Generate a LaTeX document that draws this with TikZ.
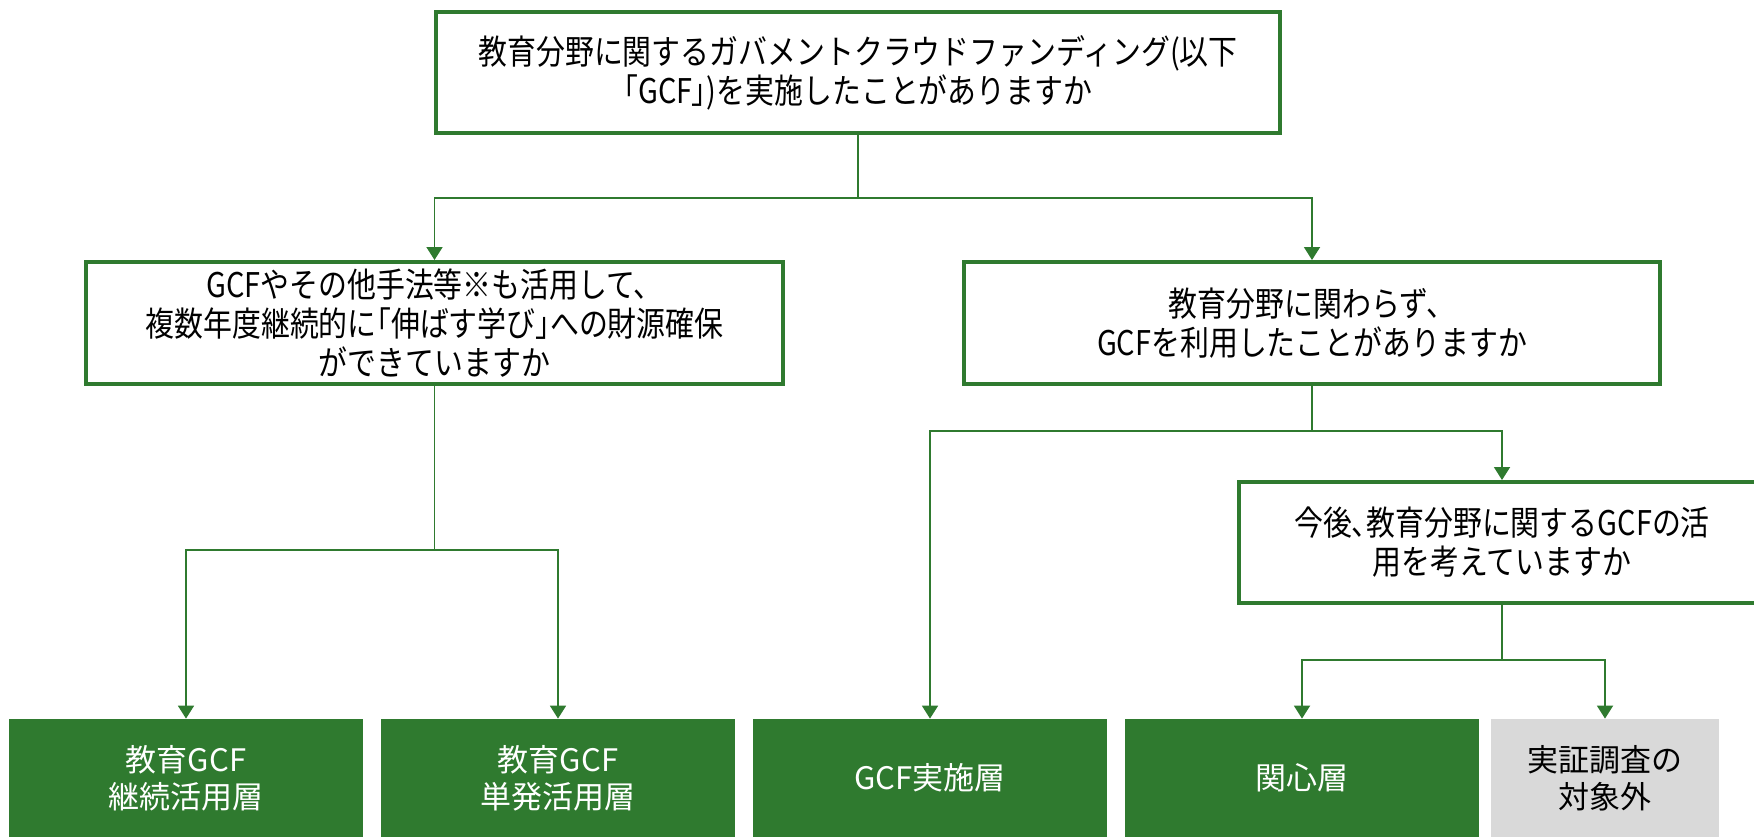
\documentclass[tikz,border=0pt]{standalone}
\usepackage{fontspec}
\setmainfont{Noto Sans CJK JP}
\newfontfamily\qfont[FakeStretch=0.85]{Noto Sans CJK JP}
\newfontfamily\qpfont[FakeStretch=0.85,RawFeature=+palt]{Noto Sans CJK JP}
\newcommand{\pbr}[1]{{\qpfont #1}}
\usetikzlibrary{arrows.meta}
\definecolor{gcfgreen}{RGB}{47,122,47}
\definecolor{outgray}{RGB}{217,217,217}
\tikzset{
  qbox/.style={draw=gcfgreen, line width=2pt, fill=white, align=center,
    font=\qfont\fontsize{17pt}{19.5pt}\selectfont, inner sep=0pt},
  abox/.style={fill=gcfgreen, text=white, align=center,
    font=\fontsize{15.5pt}{18.5pt}\selectfont, inner sep=0pt,
    minimum width=177pt, minimum height=59pt},
  gbox/.style={abox, fill=outgray, text=black, minimum width=114pt},
  conn/.style={draw=gcfgreen, line width=0.9pt},
  arr/.style={conn, -{Triangle[width=8pt,length=6.5pt]}},
}
\begin{document}
\begin{tikzpicture}[x=0.5pt, y=-0.5pt]
\useasboundingbox (0,0) rectangle (1754,837);
\begin{scope}
\clip (0,0) rectangle (1754,837);
\node[qbox, minimum width=422pt, minimum height=60.5pt] (top) at (858,72.5)
  {教育分野に関するガバメントクラウドファンディング(以下\\\pbr{「}GCF\pbr{」})を実施したことがありますか};
\node[qbox, minimum width=348.5pt, minimum height=61pt] (q2) at (434.5,323)
  {GCFやその他手法等※も活用して、\\複数年度継続的に\pbr{「}伸ばす学び\pbr{」}への財源確保\\ができていますか};
\node[qbox, minimum width=348pt, minimum height=61pt] (q3) at (1312,323)
  {教育分野に関わらず、\\GCFを利用したことがありますか};
\node[qbox, minimum width=263pt, minimum height=60.5pt] (q4) at (1502,542.5)
  {今後\pbr{、}教育分野に関するGCFの活\\用を考えていますか};
\node[abox] (b1) at (186,778) {教育GCF\\継続活用層};
\node[abox] (b2) at (558,778) {教育GCF\\単発活用層};
\node[abox] (b3) at (930,778) {GCF実施層};
\node[abox] (b4) at (1302,778) {関心層};
\node[gbox] (b5) at (1605,778) {実証調査の\\対象外};

\coordinate (h1) at (0,198);
\coordinate (h2) at (0,550);
\coordinate (h3) at (0,431);
\coordinate (h4) at (0,660);

\draw[arr] (top.south) -- (top.south |- h1) -| (q2.north);
\draw[arr] (top.south) -- (top.south |- h1) -| (q3.north);
\draw[arr] (q2.south) -- (q2.south |- h2) -| (b1.north);
\draw[arr] (q2.south) -- (q2.south |- h2) -| (b2.north);
\draw[arr] (q3.south) -- (q3.south |- h3) -| (b3.north);
\draw[arr] (q3.south) -- (q3.south |- h3) -| (q4.north);
\draw[arr] (q4.south) -- (q4.south |- h4) -| (b4.north);
\draw[arr] (q4.south) -- (q4.south |- h4) -| (b5.north);
\end{scope}
\end{tikzpicture}
\end{document}
